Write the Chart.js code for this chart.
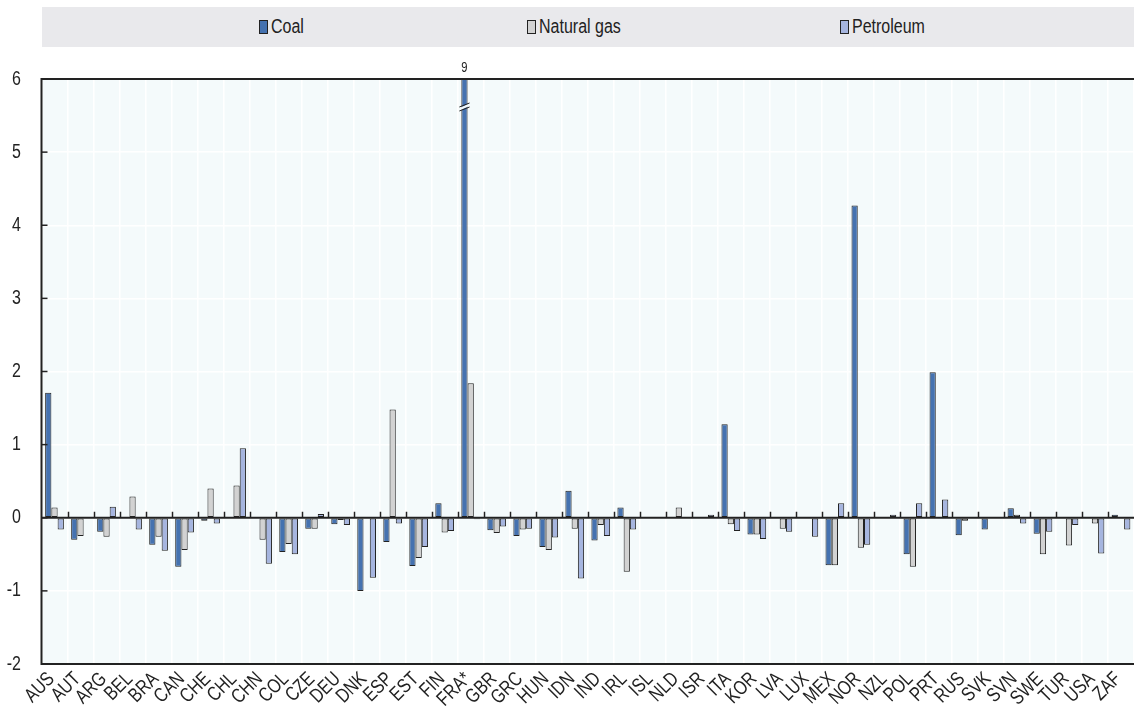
<!DOCTYPE html>
<html>
<head>
<meta charset="utf-8">
<script src="https://cdn.jsdelivr.net/npm/chart.js@4.4.1/dist/chart.umd.min.js"></script>
<style>
  html, body { margin: 0; padding: 0; background: #fff; }
  #wrap { position: relative; width: 1134px; height: 707px; }
  #legend { position: absolute; left: 42px; top: 7px; width: 1092px; height: 40px; background: #e9e9ec; }
  .item { position: absolute; top: 9px; font: 20px "Liberation Sans", Arial, sans-serif; color: #222; line-height: 20px; white-space: nowrap; }
  .sw { position: absolute; left: 0; top: 4px; width: 7px; height: 12px; border: 1px solid #222; }
  .tx { position: absolute; left: 12px; top: 0; display: inline-block; transform: scaleX(0.8); transform-origin: 0 50%; }
  canvas { position: absolute; left: 0; top: 0; }
</style>
</head>
<body>
<div id="wrap">
  <canvas id="c" width="1134" height="707"></canvas>
  <div id="legend"></div>
</div>
<script>
const countries = ["AUS","AUT","ARG","BEL","BRA","CAN","CHE","CHL","CHN","COL","CZE","DEU","DNK","ESP","EST","FIN","FRA*","GBR","GRC","HUN","IDN","IND","IRL","ISL","NLD","ISR","ITA","KOR","LVA","LUX","MEX","NOR","NZL","POL","PRT","RUS","SVK","SVN","SWE","TUR","USA","ZAF"];

const coal = [1.71,-0.30,-0.19,0,-0.37,-0.67,-0.04,0,0,-0.47,-0.15,-0.09,-1.00,-0.33,-0.66,0.20,9,-0.17,-0.25,-0.40,0.37,-0.31,0.14,0,0,0,1.28,-0.23,0,0,-0.65,4.27,0,-0.50,1.99,-0.24,-0.16,0.13,-0.22,-0.01,-0.01,0.04];
const naturalGas = [0.14,-0.25,-0.26,0.29,-0.26,-0.44,0.40,0.44,-0.30,-0.36,-0.15,-0.03,0,1.48,-0.55,-0.20,1.84,-0.21,-0.16,-0.44,-0.15,-0.10,-0.74,0,0.14,0,-0.09,-0.23,-0.15,0,-0.65,-0.41,0,-0.67,0,-0.04,-0.01,0.04,-0.50,-0.38,-0.08,-0.01];
const petroleum = [-0.16,0,0.15,-0.16,-0.45,-0.20,-0.08,0.95,-0.63,-0.50,0.05,-0.10,-0.82,-0.08,-0.40,-0.18,-0.02,-0.12,-0.15,-0.27,-0.83,-0.25,-0.16,0,0,0.04,-0.18,-0.29,-0.19,-0.26,0.20,-0.37,0.04,0.20,0.25,0,0,-0.08,-0.19,-0.10,-0.49,-0.16];

const yTicks = [-2,-1,0,1,2,3,4,5,6];
const yMin = -2, yMax = 6;

const seriesNames = ["Coal","Natural gas","Petroleum"];
const seriesColors = ["#4572b0","#d2d2d2","#a6b5df"];
const legendLeft = [217, 485, 798];

const FONT = '"Liberation Sans", Arial, sans-serif';
const NARROW = 0.8;

// HTML legend
const legend = document.getElementById('legend');
seriesNames.forEach((n, i) => {
  const d = document.createElement('div');
  d.className = 'item';
  d.style.left = legendLeft[i] + 'px';
  d.innerHTML = '<span class="sw" style="background:' + seriesColors[i] + '"></span><span class="tx">' + n + '</span>';
  legend.appendChild(d);
});

// condensed text helper for canvas labels
function narrowText(ctx, text, x, y, angle, size, align, baseline) {
  ctx.save();
  ctx.translate(x, y);
  ctx.rotate(angle);
  ctx.scale(NARROW, 1);
  ctx.font = size + 'px ' + FONT;
  ctx.fillStyle = '#222';
  ctx.textAlign = align;
  ctx.textBaseline = baseline;
  ctx.fillText(text, 0, 0);
  ctx.restore();
}

// plot background, frame, zero line, ticks, labels, axis break and clipped value label
const decor = {
  id: 'decor',
  beforeDraw(chart) {
    const { ctx, chartArea: a } = chart;
    ctx.save();
    ctx.fillStyle = '#f4fafb';
    ctx.fillRect(a.left, a.top, a.right - a.left, a.bottom - a.top);
    ctx.restore();
  },
  afterDatasetsDraw(chart) {
    const { ctx, chartArea: a, scales } = chart;
    const y = scales.y, x = scales.x;
    ctx.save();
    ctx.strokeStyle = '#222';
    ctx.lineWidth = 2;
    // frame: left, top, bottom
    ctx.beginPath();
    ctx.moveTo(a.right, a.top); ctx.lineTo(a.left, a.top);
    ctx.lineTo(a.left, a.bottom); ctx.lineTo(a.right, a.bottom);
    ctx.stroke();
    // zero line
    const y0 = y.getPixelForValue(0);
    ctx.beginPath();
    ctx.moveTo(a.left, y0); ctx.lineTo(a.right, y0);
    ctx.stroke();
    // category ticks on zero line
    ctx.lineWidth = 1.5;
    const step = (a.right - a.left) / countries.length;
    for (let i = 1; i < countries.length; i++) {
      const px = Math.round(a.left + step * i) + 0.5;
      ctx.beginPath(); ctx.moveTo(px, y0); ctx.lineTo(px, y0 - 6); ctx.stroke();
    }
    // y ticks inward + labels
    yTicks.forEach(v => {
      const py = y.getPixelForValue(v);
      ctx.beginPath(); ctx.moveTo(a.left, py); ctx.lineTo(a.left + 6, py); ctx.stroke();
      narrowText(ctx, String(v), 21, py, 0, 20, 'right', 'middle');
    });
    // category labels, rotated 45 degrees
    countries.forEach((c, i) => {
      const cx = x.getPixelForValue(i);
      narrowText(ctx, c, cx - 3, a.bottom + 12, -Math.PI / 4, 20, 'right', 'middle');
    });
    // clipped bars: value label and break symbol
    const meta = chart.getDatasetMeta(0);
    coal.forEach((v, i) => {
      if (v > yMax) {
        const bar = meta.data[i];
        const cx = bar.x;
        const w = bar.width;
        narrowText(ctx, String(v), cx, a.top - 4, 0, 14, 'center', 'bottom');
        const by = a.top + 28;
        ctx.strokeStyle = '#f4fafb';
        ctx.lineWidth = 2.5;
        ctx.beginPath();
        ctx.moveTo(cx - w / 2 - 1, by + 2); ctx.lineTo(cx + w / 2 + 1, by - 2);
        ctx.stroke();
        ctx.strokeStyle = '#222';
        ctx.lineWidth = 1;
        [-2, 2].forEach(d => {
          ctx.beginPath();
          ctx.moveTo(cx - w / 2 - 2, by + 2 + d); ctx.lineTo(cx + w / 2 + 2, by - 2 + d);
          ctx.stroke();
        });
      }
    });
    ctx.restore();
  }
};

const mk = (label, data, color) => ({
  label, data,
  backgroundColor: color,
  borderColor: '#222',
  borderWidth: 1,
  borderSkipped: false,
  categoryPercentage: 0.72,
  barPercentage: 1.0
});

new Chart(document.getElementById('c'), {
  type: 'bar',
  data: {
    labels: countries,
    datasets: [
      mk(seriesNames[0], coal, seriesColors[0]),
      mk(seriesNames[1], naturalGas, seriesColors[1]),
      mk(seriesNames[2], petroleum, seriesColors[2])
    ]
  },
  options: {
    responsive: false,
    animation: false,
    layout: { padding: { top: 79, right: 0, left: 0, bottom: 0 } },
    plugins: { legend: { display: false }, tooltip: { enabled: false } },
    scales: {
      x: {
        grid: { color: '#ffffff', lineWidth: 1.5, drawTicks: false, offset: true },
        border: { display: false },
        ticks: { display: false },
        afterFit(s) { s.height = 43; }
      },
      y: {
        min: yMin, max: yMax,
        afterBuildTicks(s) { s.ticks = yTicks.map(v => ({ value: v })); },
        grid: { color: '#ffffff', lineWidth: 1.5, drawTicks: false },
        border: { display: false },
        ticks: { display: false },
        afterFit(s) { s.width = 41.5; }
      }
    }
  },
  plugins: [decor]
});
</script>
</body>
</html>
